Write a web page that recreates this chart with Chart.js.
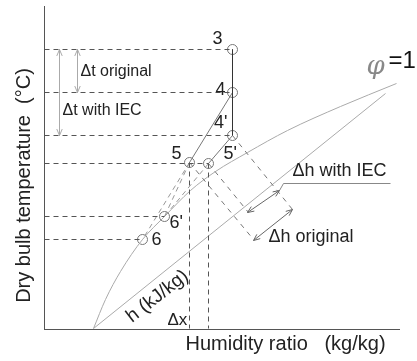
<!DOCTYPE html>
<html lang="en">
<head>
    <meta charset="UTF-8">
    <title>Psychrometric process with IEC</title>
    <style>
        body { margin: 0; background: #fff; }
        #chart { display: block; }
    </style>
</head>
<body>
    <canvas id="chart" width="417" height="361"></canvas>

    <script src="https://cdn.jsdelivr.net/npm/chart.js"></script>
    <script>
        // state points (schematic units)
        const ptLabels = ['3', '4', "4'", '5', "5'", "6'", '6'];
        const ptX = [188, 188, 188, 145, 164, 120, 98];
        const ptY = [279, 236, 193, 166, 165, 112, 89];

        // saturation curve (phi = 1)
        const satX = [49, 61, 76, 98, 120, 146, 171, 203, 243, 296, 352];
        const satY = [0, 29, 57, 89, 112, 138, 157, 176, 198, 222, 245];

        // enthalpy reference line
        const enthX = [49, 341];
        const enthY = [0, 235];

        // constant enthalpy guides: start point index, end values
        const hFrom = [2, 4, 3];
        const hEndX = [248, 204, 209];
        const hEndY = [119, 116, 89];

        // delta h dimension arrows
        const dhIecX = [203, 235], dhIecY = [116, 138];
        const dhOrigX = [209, 248], dhOrigY = [88, 119];
        const leaderX = [235, 239, 346], leaderY = [138, 145, 145];

        // delta t arrows: x position and lower state point
        const dtX = [33, 15];
        const dtTo = [1, 2];

        const P = i => ({ x: ptX[i], y: ptY[i] });
        const xy = (xs, ys) => xs.map((x, i) => ({ x: x, y: ys[i] }));

        const DARK = '#555', GREY = '#999', MID = '#777';

        function seg(data, color, dash, width) {
            return {
                data: data, showLine: true, borderColor: color, borderWidth: width || 1,
                borderDash: dash || [], pointRadius: 0, fill: false
            };
        }

        const datasets = [];
        // horizontal guides from the temperature axis
        [0, 1, 2, 4, 5, 6].forEach(i => datasets.push(seg([{ x: 0, y: ptY[i] }, P(i)], DARK, [5, 4])));
        // vertical guides down to the humidity axis
        [3, 4].forEach(i => datasets.push(seg([P(i), { x: ptX[i], y: 0 }], DARK, [5, 4])));
        // constant enthalpy guides
        hFrom.forEach((i, k) => datasets.push(seg([P(i), { x: hEndX[k], y: hEndY[k] }], MID, [5, 5])));
        // humidification paths
        datasets.push(seg([P(3), P(6)], GREY, [5, 4]));
        datasets.push(seg([P(3), P(5)], GREY, [5, 4]));
        datasets.push(seg([P(4), P(5)], GREY, [5, 4]));
        // saturation curve and enthalpy line
        datasets.push(Object.assign(seg(xy(satX, satY), '#aaa'), { cubicInterpolationMode: 'monotone' }));
        datasets.push(seg(xy(enthX, enthY), '#aaa'));
        // processes
        datasets.push(seg([P(0), P(1), P(2)], '#333'));
        datasets.push(seg([P(1), P(3)], MID));
        datasets.push(seg([P(2), P(4)], MID));
        // dimension arrows
        datasets.push(seg(xy(dhIecX, dhIecY), '#666'));
        datasets.push(seg(xy(dhOrigX, dhOrigY), '#666'));
        datasets.push(seg(xy(leaderX, leaderY), '#888'));
        dtX.forEach((x, k) => datasets.push(seg([{ x: x, y: ptY[0] }, { x: x, y: ptY[dtTo[k]] }], '#aaa')));
        // state point markers
        datasets.push({
            data: ptX.map((x, i) => P(i)), showLine: false, pointRadius: 5,
            pointBackgroundColor: 'rgba(255,255,255,0)', pointBorderColor: '#777', pointBorderWidth: 1
        });

        function head(ctx, x1, y1, x2, y2) {
            const a = Math.atan2(y2 - y1, x2 - x1), s = 7;
            ctx.beginPath();
            ctx.moveTo(x2 - s * Math.cos(a - 0.4), y2 - s * Math.sin(a - 0.4));
            ctx.lineTo(x2, y2);
            ctx.lineTo(x2 - s * Math.cos(a + 0.4), y2 - s * Math.sin(a + 0.4));
            ctx.stroke();
        }

        const texts = [
            { t: 'Δt original', x: 36, y: 257, size: 16 },
            { t: 'Δt with IEC', x: 18, y: 218, size: 16 },
            { t: 'Δh with IEC', x: 248, y: 157, size: 18 },
            { t: 'Δh original', x: 224, y: 91, size: 18 },
            { t: 'Δx', x: 123, y: 8, size: 17 },
            { t: ptLabels[0], x: 178, y: 289, size: 18, align: 'right' },
            { t: ptLabels[1], x: 181, y: 238, size: 18, align: 'right' },
            { t: ptLabels[2], x: 183, y: 205, size: 18, align: 'right' },
            { t: ptLabels[3], x: 137, y: 174, size: 18, align: 'right' },
            { t: ptLabels[4], x: 179, y: 174, size: 18 },
            { t: ptLabels[5], x: 125, y: 105, size: 18 },
            { t: ptLabels[6], x: 107, y: 88, size: 18 },
            { t: 'Humidity ratio   (kg/kg)', x: 141, y: -16, size: 20 }
        ];

        const overlay = {
            id: 'overlay',
            afterDatasetsDraw(chart) {
                const ctx = chart.ctx, sx = chart.scales.x, sy = chart.scales.y;
                const px = v => sx.getPixelForValue(v), py = v => sy.getPixelForValue(v);
                ctx.save();
                // arrow heads
                ctx.lineWidth = 1;
                ctx.strokeStyle = '#aaa';
                dtX.forEach((x, k) => {
                    const yb = ptY[dtTo[k]];
                    head(ctx, px(x), py(yb), px(x), py(ptY[0]));
                    head(ctx, px(x), py(ptY[0]), px(x), py(yb));
                });
                ctx.strokeStyle = '#666';
                [[dhIecX, dhIecY], [dhOrigX, dhOrigY]].forEach(([xs, ys]) => {
                    head(ctx, px(xs[0]), py(ys[0]), px(xs[1]), py(ys[1]));
                    head(ctx, px(xs[1]), py(ys[1]), px(xs[0]), py(ys[0]));
                });
                // texts
                ctx.fillStyle = '#222';
                ctx.textBaseline = 'middle';
                texts.forEach(o => {
                    ctx.textAlign = o.align || 'left';
                    ctx.font = o.size + 'px "Liberation Sans", Arial, sans-serif';
                    ctx.fillText(o.t, px(o.x), py(o.y));
                });
                // enthalpy label along the line
                ctx.save();
                ctx.translate(px(113), py(32));
                ctx.rotate(-38 * Math.PI / 180);
                ctx.textAlign = 'center';
                ctx.font = '19px "Liberation Sans", Arial, sans-serif';
                ctx.fillText('h (kJ/kg)', 0, 0);
                ctx.restore();
                // y axis title
                ctx.save();
                ctx.translate(24, py(143));
                ctx.rotate(-Math.PI / 2);
                ctx.textAlign = 'center';
                ctx.font = '20px "Liberation Sans", Arial, sans-serif';
                ctx.fillText('Dry bulb temperature  (°C)', 0, 0);
                ctx.restore();
                // phi = 1
                ctx.textAlign = 'left';
                ctx.font = 'italic 26px "DejaVu Serif", serif';
                ctx.fillStyle = '#888';
                ctx.fillText('φ', px(322), py(261));
                ctx.font = '24px "Liberation Sans", Arial, sans-serif';
                ctx.fillStyle = '#111';
                ctx.fillText('=1', px(344), py(267));
                ctx.restore();
            }
        };

        new Chart(document.getElementById('chart'), {
            type: 'scatter',
            data: { datasets: datasets },
            options: {
                responsive: false,
                devicePixelRatio: 1,
                animation: false,
                layout: { padding: { left: 44, right: 18, top: 6, bottom: 32 } },
                plugins: { legend: { display: false }, tooltip: { enabled: false } },
                scales: {
                    x: {
                        type: 'linear', min: -0.5, max: 354.5,
                        grid: { display: false }, ticks: { display: false },
                        border: { color: '#555', width: 1 },
                        afterFit: s => { s.height = 0; }
                    },
                    y: {
                        type: 'linear', min: -0.5, max: 322.5,
                        grid: { display: false }, ticks: { display: false },
                        border: { color: '#555', width: 1 },
                        afterFit: s => { s.width = 0; }
                    }
                }
            },
            plugins: [overlay]
        });
    </script>
</body>
</html>
